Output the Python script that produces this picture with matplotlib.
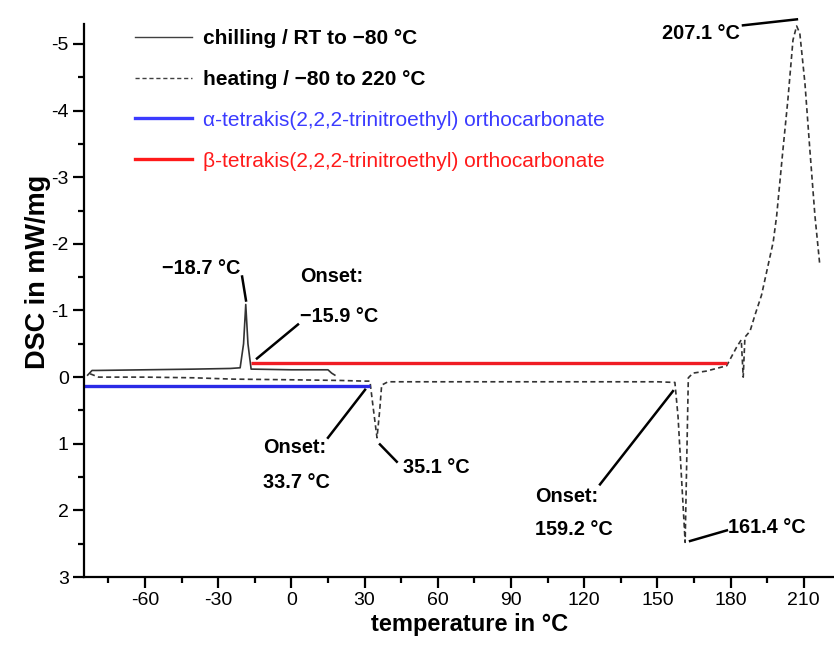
import matplotlib
matplotlib.use('Agg')
import matplotlib.pyplot as plt
from matplotlib.lines import Line2D
from matplotlib.ticker import MultipleLocator

plt.rcParams['font.family'] = ['Liberation Sans', 'DejaVu Sans']
plt.rcParams['axes.unicode_minus'] = False

# chilling run, RT to -80 °C
chill_t = [-83.5, -81.7, -80, -60, -40, -25, -21, -19.6, -18.7, -17.8, -16.5, -16, 0, 10, 15, 16.5, 17.8]
chill_v = [-0.03, -0.10, -0.10, -0.11, -0.12, -0.13, -0.14, -0.5, -1.09, -0.5, -0.12, -0.12, -0.11, -0.11, -0.11, -0.06, -0.03]

# heating run, -80 to 220 °C
heat_t = [-82.5, -79, -60, -40, -24, 0, 20, 30, 32.2, 33.5, 35.1, 36.2, 37, 39.6, 50, 100, 150, 157.2,
          158.5, 161.4, 162.7, 164.6, 170, 178.4, 182.5, 184.4, 185.2, 185.9, 188, 190, 192.7, 195.4,
          197.5, 198.9, 201.5, 203.5, 205.6, 207.1, 208.4, 210.5, 212.5, 214.6, 216.6]
heat_v = [-0.05, 0.0, 0.0, 0.01, 0.03, 0.04, 0.05, 0.06, 0.06, 0.45, 0.91, 0.5, 0.12, 0.07, 0.07, 0.07, 0.07, 0.08,
          0.6, 2.48, 0.01, -0.06, -0.09, -0.17, -0.45, -0.56, 0.0, -0.6, -0.69, -0.93, -1.23, -1.68,
          -2.03, -2.42, -3.42, -4.16, -5.06, -5.27, -5.16, -4.41, -3.42, -2.42, -1.68]

# phase ranges
alpha_t = [-85, 32.2]
alpha_v = [0.14, 0.14]
beta_t = [-16.5, 178.4]
beta_v = [-0.21, -0.21]

# annotations: text, text position, leader line start/end
labels = ['\u221218.7 \u00b0C', 'Onset:', '\u221215.9 \u00b0C', 'Onset:', '33.7 \u00b0C', '35.1 \u00b0C',
          'Onset:', '159.2 \u00b0C', '161.4 \u00b0C', '207.1 \u00b0C']
label_t = [-36.8, 3.5, 3.5, -11.6, -11.6, 45.7, 99.8, 99.8, 178.9, 183.9]
label_v = [-1.63, -1.51, -0.91, 1.06, 1.58, 1.36, 1.79, 2.28, 2.25, -5.16]
label_ha = ['center', 'left', 'left', 'left', 'left', 'left', 'left', 'left', 'left', 'right']
lead_t0 = [-20.2, 2.7, 15.0, 36.3, 126.5, 163.4, 185.1]
lead_v0 = [-1.51, -0.79, 0.91, 1.01, 1.61, 2.46, -5.28]
lead_t1 = [-18.6, -14.1, 30.2, 43.2, 156.4, 178.5, 207.2]
lead_v1 = [-1.15, -0.28, 0.19, 1.27, 0.21, 2.30, -5.37]

fig = plt.figure(figsize=(8.34, 6.57), dpi=100)
ax = fig.add_axes([84 / 834, 1 - 577 / 657, (833 - 84) / 834, (577 - 24) / 657])

ax.plot(chill_t, chill_v, color='#333333', lw=1.2)
ax.plot(heat_t, heat_v, color='#333333', lw=1.2, dashes=(3, 2))
ax.plot(alpha_t, alpha_v, color='#2a2ae6', lw=2.4, solid_capstyle='butt')
ax.plot(beta_t, beta_v, color='#f01c24', lw=2.4, solid_capstyle='butt')

for s, t, v, ha in zip(labels, label_t, label_v, label_ha):
    ax.text(t, v, s, ha=ha, va='center', fontsize=14.3, fontweight='bold', clip_on=False)
for t0, v0, t1, v1 in zip(lead_t0, lead_v0, lead_t1, lead_v1):
    ax.plot([t0, t1], [v0, v1], color='black', lw=1.8, clip_on=False)

ax.set_xlim(-85, 222)
ax.set_ylim(3, -5.3)
ax.xaxis.set_major_locator(MultipleLocator(30))
ax.xaxis.set_minor_locator(MultipleLocator(15))
ax.yaxis.set_major_locator(MultipleLocator(1))
ax.yaxis.set_minor_locator(MultipleLocator(0.5))
for side in ['top', 'right']:
    ax.spines[side].set_visible(False)
for side in ['left', 'bottom']:
    ax.spines[side].set_linewidth(1.6)
ax.tick_params(which='major', direction='out', length=8, width=1.6, labelsize=14, pad=3)
ax.tick_params(which='minor', direction='out', length=4.5, width=1.6)
ax.set_xlabel('temperature in \u00b0C', fontsize=17, fontweight='bold')
ax.set_ylabel('DSC in mW/mg', fontsize=19.5, fontweight='bold', labelpad=0)
ax.xaxis.set_label_coords(0.515, -0.066)
ax.yaxis.label.set_y(0.552)

handles = [Line2D([], [], color='#404040', lw=1.0),
           Line2D([], [], color='#404040', lw=1.0, dashes=(3, 2)),
           Line2D([], [], color='#3b3bff', lw=2.4),
           Line2D([], [], color='#ff1a1a', lw=2.4)]
names = ['chilling / RT to \u221280 \u00b0C', 'heating / \u221280 to 220 \u00b0C',
         '\u03b1-tetrakis(2,2,2-trinitroethyl) orthocarbonate',
         '\u03b2-tetrakis(2,2,2-trinitroethyl) orthocarbonate']
leg = ax.legend(handles, names, loc='upper left', bbox_to_anchor=(135 / 834, 1 - 29 / 657),
                bbox_transform=fig.transFigure, frameon=False, fontsize=15, borderpad=0,
                borderaxespad=0, handlelength=2.75, handletextpad=0.53, labelspacing=1.05)
txts = leg.get_texts()
txts[0].set_fontweight('bold')
txts[1].set_fontweight('bold')
txts[2].set_color('#3b3bff')
txts[3].set_color('#ff1a1a')

fig.savefig('out.png', dpi=100)
